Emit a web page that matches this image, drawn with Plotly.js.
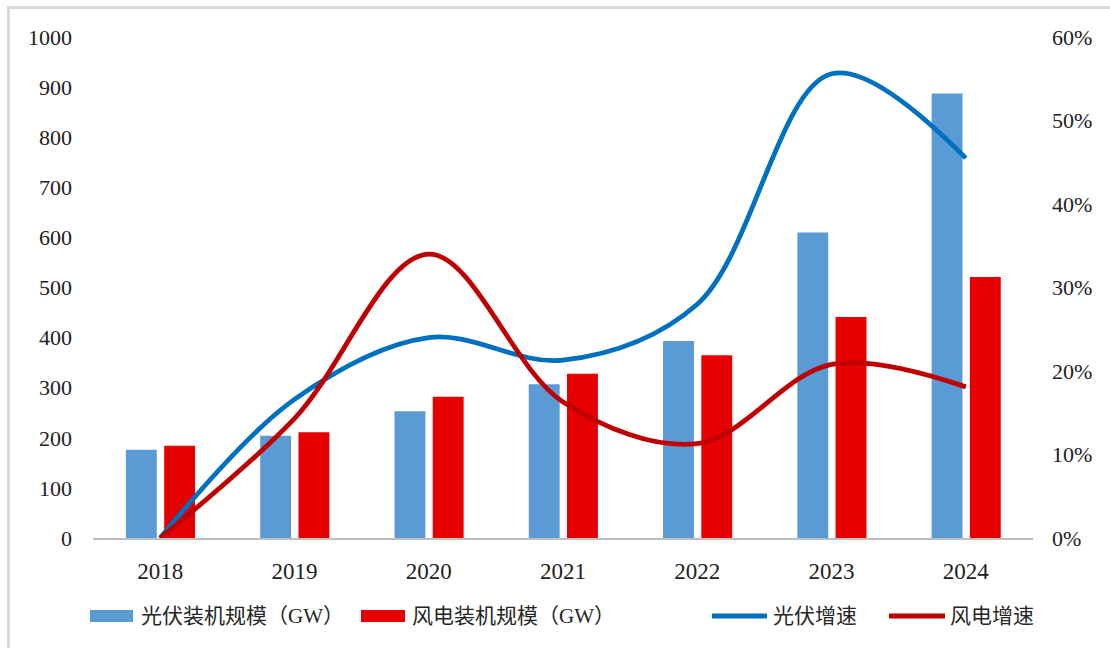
<!DOCTYPE html>
<html>
<head>
<meta charset="utf-8">
<script src="https://cdn.plot.ly/plotly-3.0.1.min.js"></script>
<style>
  html, body { margin: 0; padding: 0; background: #fff; }
  #frame { position: absolute; left: 7px; top: 6px; width: 1110px; height: 648px;
           border-left: 3px solid #d9d9d9; border-top: 3px solid #d9d9d9; }
  #chart { position: absolute; left: 0; top: 0; width: 1110px; height: 648px; }
</style>
</head>
<body>
<div id="frame"></div>
<div id="chart"></div>
<script>
const years = ['2018', '2019', '2020', '2021', '2022', '2023', '2024'];
const seriesNames = ['光伏装机规模（GW）', '风电装机规模（GW）', '光伏增速', '风电增速'];
const pvCapacity = [176, 204, 253, 307, 393, 610, 887];
const windCapacity = [184, 211, 282, 328, 365, 441, 521];
const pvGrowth = [0.0, 0.166, 0.240, 0.213, 0.280, 0.556, 0.455];
const windGrowth = [0.0, 0.143, 0.340, 0.163, 0.113, 0.208, 0.181];

const colors = ['#5B9BD5', '#E60000', '#0070C0', '#C00000'];
const numFont = 'Liberation Serif, Times New Roman, serif';
const legendFont = 'Liberation Serif, Noto Sans CJK SC, serif';

const traces = [
  { type: 'bar', name: seriesNames[0], x: years, y: pvCapacity,
    marker: { color: colors[0] }, width: 0.23, offset: -0.255, yaxis: 'y' },
  { type: 'bar', name: seriesNames[1], x: years, y: windCapacity,
    marker: { color: colors[1] }, width: 0.23, offset: 0.03, yaxis: 'y' },
  { type: 'scatter', mode: 'lines', name: seriesNames[2], x: years, y: pvGrowth,
    line: { color: colors[2], width: 4.8, shape: 'spline', smoothing: 1 }, yaxis: 'y2' },
  { type: 'scatter', mode: 'lines', name: seriesNames[3], x: years, y: windGrowth,
    line: { color: colors[3], width: 4.8, shape: 'spline', smoothing: 1 }, yaxis: 'y2' }
];

// custom legend (paper coordinates)
const plotL = 93, plotW = 940, plotB = 538, plotH = 501;
const px = v => (v - plotL) / plotW;
const py = v => (plotB - v) / plotH;
const legendItems = [
  { kind: 'rect', x0: 90, x1: 133, tx: 139 },
  { kind: 'rect', x0: 361, x1: 405, tx: 410 },
  { kind: 'line', x0: 712, x1: 767, tx: 771 },
  { kind: 'line', x0: 889, x1: 945, tx: 948 }
];
const legendY = 616;
const shapes = [], annotations = [];
legendItems.forEach((it, i) => {
  if (it.kind === 'rect') {
    shapes.push({ type: 'rect', xref: 'paper', yref: 'paper', x0: px(it.x0), x1: px(it.x1),
      y0: py(legendY + 6), y1: py(legendY - 6), fillcolor: colors[i], line: { width: 0 } });
  } else {
    shapes.push({ type: 'line', xref: 'paper', yref: 'paper', x0: px(it.x0), x1: px(it.x1),
      y0: py(legendY), y1: py(legendY), line: { color: colors[i], width: 5 } });
  }
  annotations.push({ xref: 'paper', yref: 'paper', x: px(it.tx), y: py(legendY),
    xanchor: 'left', yanchor: 'middle', showarrow: false, text: seriesNames[i],
    font: { family: legendFont, size: 21, color: '#262626' } });
});

const layout = {
  width: 1110, height: 648,
  margin: { l: 93, r: 77, t: 37, b: 110 },
  paper_bgcolor: 'rgba(0,0,0,0)', plot_bgcolor: 'rgba(0,0,0,0)',
  barmode: 'overlay',
  showlegend: false,
  shapes: shapes,
  annotations: annotations,
  xaxis: { type: 'category', showline: true, linecolor: '#bfbfbf', linewidth: 2,
           ticks: '', showgrid: false, zeroline: false, ticklabelstandoff: 11,
           tickfont: { family: numFont, size: 23, color: '#222' } },
  yaxis: { range: [0, 1000], dtick: 100, showgrid: false, zeroline: false, showline: false,
           ticks: '', ticklabelstandoff: 20,
           tickfont: { family: numFont, size: 22, color: '#222' } },
  yaxis2: { overlaying: 'y', side: 'right', range: [0, 0.6], dtick: 0.1, tickformat: '.0%',
            showgrid: false, zeroline: false, showline: false, ticks: '', ticklabelstandoff: 18,
            tickfont: { family: numFont, size: 22, color: '#222' } }
};

Plotly.newPlot('chart', traces, layout, { displayModeBar: false, staticPlot: true });
</script>
</body>
</html>
